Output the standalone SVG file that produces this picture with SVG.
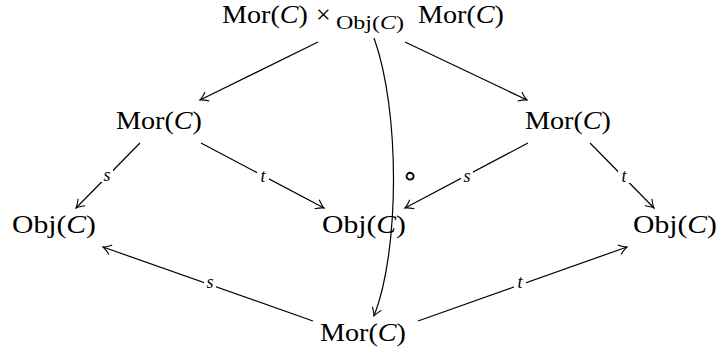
<svg xmlns="http://www.w3.org/2000/svg" width="721" height="352" viewBox="0 0 721 352">
<style>
.n{font-family:"Liberation Serif","Times New Roman",serif;font-size:26px;fill:#000}
.sub{font-family:"Liberation Serif","Times New Roman",serif;font-size:18px;fill:#000}
.i{font-style:italic}
.lb{font-family:"Liberation Serif","Times New Roman",serif;font-size:18px;font-style:italic;fill:#000;text-anchor:middle}
.e{fill:none;stroke:#000;stroke-width:1.2;marker-end:url(#ar)}
</style>
<defs>
<marker id="ar" viewBox="-10 -6 12 12" refX="0" refY="0" markerWidth="12" markerHeight="12" markerUnits="userSpaceOnUse" orient="auto">
<path d="M-8,-5 Q-3,-1 0,0 Q-3,1 -8,5" fill="none" stroke="#000" stroke-width="1.1"/>
</marker>
</defs>
<rect width="721" height="352" fill="#fff"/>
<g id="connectors">
<path class="e" d="M318,42 L200,100"/>
<path class="e" d="M405,42 L527,100"/>
<path class="e" d="M374,38 C400,110 400,250 374,316"/>
<path class="e" d="M140,143 L76,208"/>
<path class="e" d="M201,143 L324,208"/>
<path class="e" d="M528,143 L405,208"/>
<path class="e" d="M590,143 L654,208"/>
<path class="e" d="M313,321 L103,247"/>
<path class="e" d="M418,321 L627,247"/>
<rect x="101" y="166" width="12" height="16" fill="#fff"/>
<text class="lb" x="107" y="181">s</text>
<rect x="257" y="167" width="12" height="16" fill="#fff"/>
<text class="lb" x="263" y="182">t</text>
<rect x="461" y="167" width="12" height="16" fill="#fff"/>
<text class="lb" x="467" y="182">s</text>
<rect x="618" y="167" width="12" height="16" fill="#fff"/>
<text class="lb" x="624" y="182">t</text>
<rect x="204" y="273" width="12" height="16" fill="#fff"/>
<text class="lb" x="210" y="288">s</text>
<rect x="514" y="273" width="12" height="16" fill="#fff"/>
<text class="lb" x="520" y="288">t</text>
<text x="410" y="185" style="font-family:'DejaVu Sans',sans-serif;font-size:28px;text-anchor:middle">∘</text>
</g>
<g id="top">
<text class="n" x="222" y="23" textLength="86" lengthAdjust="spacingAndGlyphs">Mor(<tspan class="i">C</tspan>)</text>
<text class="n" x="316" y="23">×</text>
<text class="sub" x="336" y="29" textLength="68" lengthAdjust="spacingAndGlyphs">Obj(<tspan class="i">C</tspan>)</text>
<text class="n" x="418" y="23" textLength="86" lengthAdjust="spacingAndGlyphs">Mor(<tspan class="i">C</tspan>)</text>
</g>
<g id="morL"><text class="n" x="116" y="129" textLength="86" lengthAdjust="spacingAndGlyphs">Mor(<tspan class="i">C</tspan>)</text></g>
<g id="morR"><text class="n" x="525" y="129" textLength="86" lengthAdjust="spacingAndGlyphs">Mor(<tspan class="i">C</tspan>)</text></g>
<g id="objL"><text class="n" x="12" y="233" textLength="84" lengthAdjust="spacingAndGlyphs">Obj(<tspan class="i">C</tspan>)</text></g>
<g id="objM"><text class="n" x="322" y="233" textLength="84" lengthAdjust="spacingAndGlyphs">Obj(<tspan class="i">C</tspan>)</text></g>
<g id="objR"><text class="n" x="633" y="233" textLength="84" lengthAdjust="spacingAndGlyphs">Obj(<tspan class="i">C</tspan>)</text></g>
<g id="morB"><text class="n" x="320" y="341" textLength="86" lengthAdjust="spacingAndGlyphs">Mor(<tspan class="i">C</tspan>)</text></g>
</svg>
